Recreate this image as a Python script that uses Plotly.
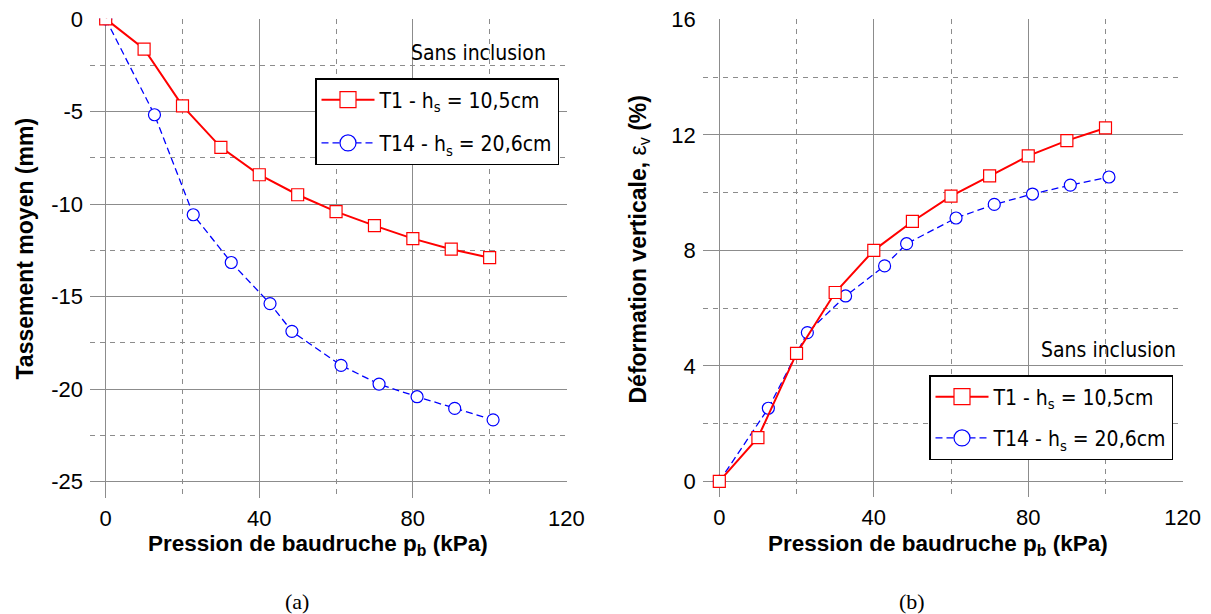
import plotly.graph_objects as go

# ---- data ----
pressure_t1 = [0, 10, 20, 30, 40, 50, 60, 70, 80, 90, 100]
pressure_t14 = [0, 12.7, 22.8, 32.7, 42.8, 48.5, 61.3, 71.2, 81.1, 90.9, 100.9]

settlement_t1 = [0, -1.63, -4.70, -6.94, -8.42, -9.50, -10.41, -11.17, -11.87, -12.44, -12.90]
settlement_t14 = [0, -5.18, -10.58, -13.16, -15.38, -16.88, -18.72, -19.73, -20.41, -21.04, -21.66]

strain_t1 = [0, 1.51, 4.43, 6.54, 8.00, 9.00, 9.88, 10.58, 11.27, 11.80, 12.24]
strain_t14 = [0, 2.53, 5.15, 6.42, 7.46, 8.23, 9.12, 9.59, 9.95, 10.26, 10.54]

name_t1 = "T1 - h<sub>s</sub> = 10,5cm"
name_t14 = "T14 - h<sub>s</sub> = 20,6cm"

x_ticks = [0, 40, 80, 120]
x_minor = [20, 60, 100]
y1_ticks = [0, -5, -10, -15, -20, -25]
y1_ticktext = ["0", "-5", "-10", "-15", "-20", "-25"]
y1_minor = [-2.5, -7.5, -12.5, -17.5, -22.5]
y2_ticks = [0, 4, 8, 12, 16]
y2_minor = [2, 6, 10, 14]

RED = "#ff0000"
BLUE = "#0000ff"
GRID = "#8c8c8c"
TICKFONT = dict(family="Liberation Sans, Arial, sans-serif", size=22, color="black")
NARROW = "DejaVu Sans Condensed, Liberation Sans Narrow, sans-serif"

fig = go.Figure()

def add_series(x, y, xa, ya, legend):
    # T14 first so T1 squares sit on top
    fig.add_trace(go.Scatter(
        x=x[1], y=y[1], xaxis=xa, yaxis=ya, mode="lines+markers", showlegend=False,
        line=dict(color=BLUE, width=1.3, dash="7px,4px"),
        marker=dict(symbol="circle", size=12, color="white", line=dict(color=BLUE, width=1.2)),
    ))
    fig.add_trace(go.Scatter(
        x=x[0], y=y[0], xaxis=xa, yaxis=ya, mode="lines+markers", showlegend=False,
        line=dict(color=RED, width=2),
        marker=dict(symbol="square", size=12, color="white", line=dict(color=RED, width=1.2)),
    ))
    # legend entries (no data, larger symbols as in the reference legend)
    fig.add_trace(go.Scatter(
        x=[None], y=[None], xaxis=xa, yaxis=ya, mode="lines+markers", name=name_t1,
        legend=legend, legendgroup=legend + "a",
        line=dict(color=RED, width=2),
        marker=dict(symbol="square", size=16, color="white", line=dict(color=RED, width=1.2)),
    ))
    fig.add_trace(go.Scatter(
        x=[None], y=[None], xaxis=xa, yaxis=ya, mode="lines+markers", name=name_t14,
        legend=legend, legendgroup=legend + "b",
        line=dict(color=BLUE, width=1.3, dash="7px,4px"),
        marker=dict(symbol="circle", size=16, color="white", line=dict(color=BLUE, width=1.2)),
    ))

add_series([pressure_t1, pressure_t14], [settlement_t1, settlement_t14], "x", "y", "legend")
add_series([pressure_t1, pressure_t14], [strain_t1, strain_t14], "x2", "y2", "legend2")

def xaxis(domain, rng, anchor):
    return dict(domain=domain, range=rng, anchor=anchor, tickvals=x_ticks, automargin=False,
                showgrid=True, gridcolor=GRID, gridwidth=1, zeroline=False, showline=False,
                ticks="", tickfont=TICKFONT, ticklabelstandoff=5, ticklabeloverflow="allow",
                minor=dict(tickvals=x_minor, showgrid=True, gridcolor=GRID, gridwidth=1,
                           griddash="5px,5px", ticks=""))

def yaxis(domain, rng, anchor, ticks, minor, ticktext=None):
    d = dict(domain=domain, range=rng, anchor=anchor, tickvals=ticks, automargin=False,
             showgrid=True, gridcolor=GRID, gridwidth=1, zeroline=False, showline=False,
             ticks="", tickfont=TICKFONT, ticklabelstandoff=6, ticklabeloverflow="allow",
             minor=dict(tickvals=minor, showgrid=True, gridcolor=GRID, gridwidth=1,
                        griddash="5px,5px", ticks=""))
    if ticktext is not None:
        d["ticktext"] = ticktext
    return d

W, H = 1211, 614
OFF = 8  # the page body adds an 8px margin; positions below are window pixels


def px(v):
    return (v - OFF) / W


def py(v):
    return 1 - (v - OFF) / H


fig.update_layout(
    width=W, height=H, margin=dict(l=0, r=0, t=0, b=0, autoexpand=False),
    paper_bgcolor="white", plot_bgcolor="white",
    xaxis=xaxis([px(90), px(566.5)], [-4.09, 120.02], "y"),
    yaxis=yaxis([py(497.7), py(18.5)], [-25.865, 0.02], "x", y1_ticks, y1_minor, y1_ticktext),
    xaxis2=xaxis([px(702.7), px(1182.8)], [-4.3, 120.02], "y2"),
    yaxis2=yaxis([py(497.3), py(18.8)], [-0.554, 16.02], "x2", y2_ticks, y2_minor),
    legend=dict(x=px(315), y=py(78), xanchor="left", yanchor="top",
                bgcolor="white", bordercolor="black", borderwidth=1.5,
                font=dict(family=NARROW, size=21, color="black"),
                itemwidth=53, tracegroupgap=13, traceorder="grouped"),
    legend2=dict(x=px(929), y=py(375), xanchor="left", yanchor="top",
                 bgcolor="white", bordercolor="black", borderwidth=1.5,
                 font=dict(family=NARROW, size=21, color="black"),
                 itemwidth=53, tracegroupgap=11, traceorder="grouped"),
    showlegend=True,
)

BOLD = dict(family="Liberation Sans, Arial, sans-serif", size=22.5, color="black")
BOLDY = dict(family="Liberation Sans, Arial, sans-serif", size=23, color="black")
SERIF = dict(family="Liberation Serif, Times New Roman, serif", size=22, color="black")
ann = [
    dict(text="<b>Tassement moyen (mm)</b>", x=px(24.5), y=py(249), textangle=-90, font=BOLDY),
    dict(text="<b>Déformation verticale, </b>ε<sub>v</sub><b> (%)</b>", x=px(639), y=py(249.5),
         textangle=-90, font=BOLDY),
    dict(text="<b>Pression de baudruche p<sub>b</sub> (kPa)</b>", x=px(318), y=py(545), font=BOLD),
    dict(text="<b>Pression de baudruche p<sub>b</sub> (kPa)</b>", x=px(937.5), y=py(545), font=BOLD),
    dict(text="(a)", x=px(297), y=py(601), font=SERIF),
    dict(text="(b)", x=px(912), y=py(601), font=SERIF),
]
for a in ann:
    a.update(xref="paper", yref="paper", showarrow=False, xanchor="center", yanchor="middle")
    fig.add_annotation(**a)

fig.add_annotation(text="Sans inclusion", x=px(548), y=py(53), xref="paper", yref="paper",
                   xanchor="right", yanchor="middle", showarrow=False,
                   font=dict(family=NARROW, size=21, color="black"))
fig.add_annotation(text="Sans inclusion", x=px(1178), y=py(350), xref="paper", yref="paper",
                   xanchor="right", yanchor="middle", showarrow=False,
                   font=dict(family=NARROW, size=21, color="black"))

fig.write_html("out.html")
